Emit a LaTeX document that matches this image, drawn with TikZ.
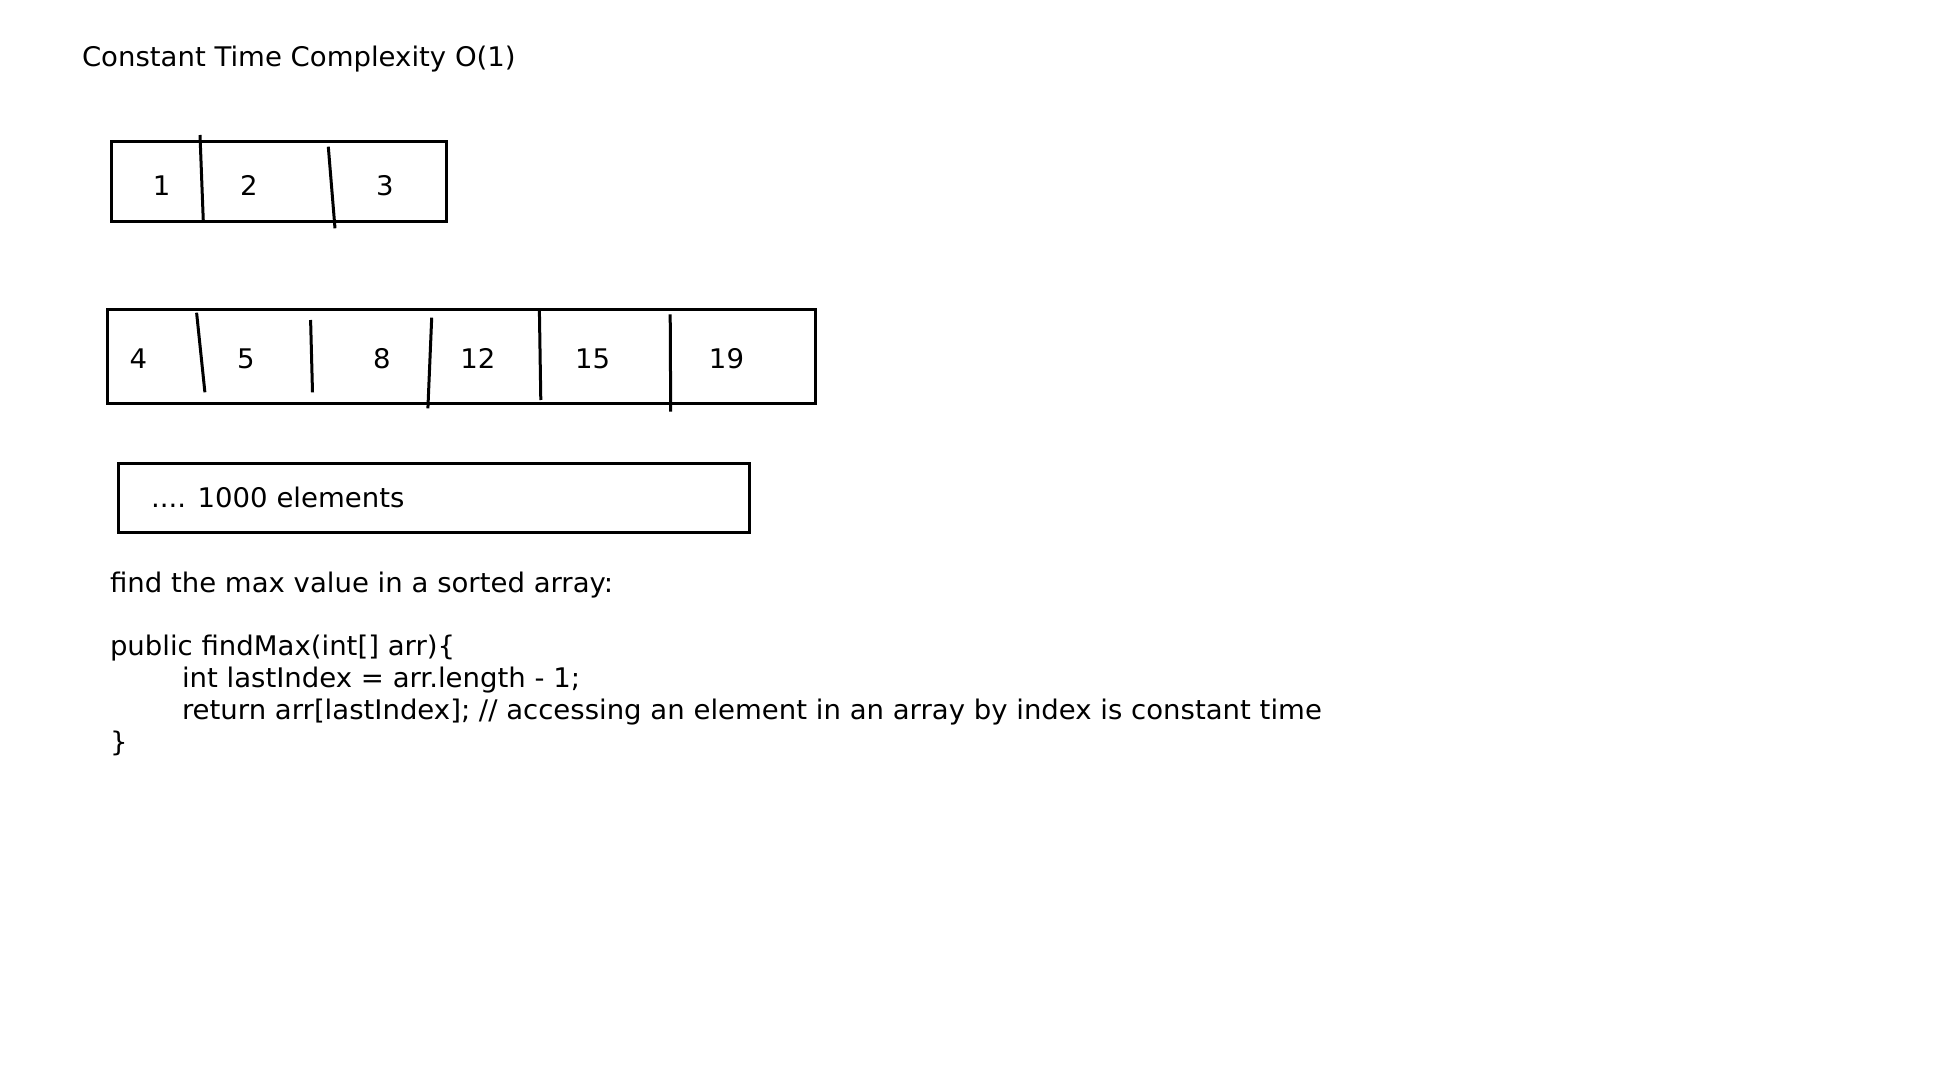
\documentclass[tikz,border=0pt]{standalone}
\usepackage{fontspec}
\setmainfont{DejaVu Sans}[FakeStretch=1.02]
\begin{document}
\begin{tikzpicture}[x=1pt,y=-1pt,
  txt/.style={inner sep=0pt,outer sep=0pt,font=\fontsize{27}{32}\selectfont},
  lbl/.style={txt,anchor=base west},
  num/.style={txt,anchor=base},
  frame/.style={draw=black,line width=3pt},
  divider/.style={draw=black,line width=3pt}]
\fill[white] (0,0) rectangle (1936,1089);
\useasboundingbox (0,0) rectangle (1936,1089);

\node[lbl] (title) at (82,66.5) {Constant Time Complexity O(1)};

% array 1
\draw[frame] (111,142) rectangle (446.5,221);
\draw[divider] (200,135) -- (203.3,221);
\draw[divider] (328.3,146.7) -- (335,228.3);
\node[num] (a1) at (161.7,195) {1};
\node[num] (a2) at (249,195) {2};
\node[num] (a3) at (385,195) {3};

% array 2
\draw[frame] (107,309.3) rectangle (815.5,403.3);
\draw[divider] (196.6,312.7) -- (204.9,392.3);
\draw[divider] (310.6,320) -- (312.5,392.3);
\draw[divider] (431.7,317.7) -- (427.9,408.3);
\draw[divider] (539.4,310.7) -- (540.8,400);
\draw[divider] (670.2,314.3) -- (670.7,411.7);
\node[num] (b1) at (138.5,368.3) {4};
\node[num] (b2) at (246,368.3) {5};
\node[num] (b3) at (382,368.3) {8};
\node[num] (b4) at (478,368.3) {12};
\node[num] (b5) at (592.7,368.3) {15};
\node[num] (b6) at (726.5,368.3) {19};

% array 3
\draw[frame] (118.2,463.3) rectangle (749.2,532);
\node[lbl] (many) at (151,507) {.... 1000 elements};

% code
\node[lbl] (find) at (110,592) {find the max value in a sorted array:};
\node[lbl] (c1) at (110,655.5) {public findMax(int[] arr)\{};
\node[lbl] (c2) at (182,687.6) {int lastIndex = arr.length - 1;};
\node[lbl] (c3) at (182,719.7) {return arr[lastIndex]; // accessing an element in an array by index is constant time};
\node[lbl] (c4) at (110,751.8) {\}};
\end{tikzpicture}
\end{document}
